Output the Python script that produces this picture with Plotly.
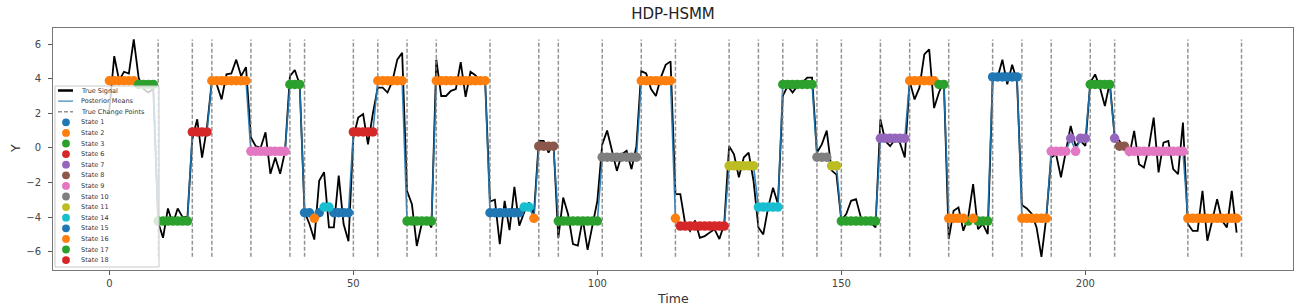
import plotly.graph_objects as go

# ---------------- data ----------------
time = list(range(232))

true_signal = [
    2.2, 5.3, 3.9, 4.4, 4.3, 6.27, 4.05, 3.4, 3.2, 3.4,
    -4.3, -5.2, -3.5, -4.4, -3.5, -4.0, -4.0, 0.5, 1.65, -0.56,
    1.17, 3.86, 3.67, 2.8, 4.25, 4.3, 5.1, 4.15, 4.67, 0.6,
    0.1, 0.0, 0.9, -1.5, -0.56, -1.5, -0.2, 4.15, 4.5, 3.67,
    -3.7, -4.4, -5.3, -1.9, -1.4, -4.6, -4.6, -1.6, -4.4, -5.4,
    0.6, 1.75, 1.95, 0.2, 2.0, 3.48, 3.48, 3.2, 3.86, 5.1,
    5.5, -2.5, -3.25, -5.67, -4.4, -4.1, -4.6, 5.1, 3.0, 3.0,
    3.3, 3.4, 4.95, 2.95, 4.4, 4.2, 3.85, 3.9, -3.1, -3.0,
    -5.56, -3.06, -4.75, -2.25, -4.5, -3.73, -3.15, -3.83, 0.4, 0.4,
    -0.27, 0.3, -5.2, -2.87, -3.83, -5.56, -5.65, -4.1, -5.9, -4.4,
    -3.06, 0.2, 1.0, -0.17, -1.33, -0.37, -0.17, -1.23, 0.1, 4.44,
    4.3, 3.4, 3.0, 4.06, 4.8, 5.0, -2.67, -2.67, -4.4, -4.8,
    -4.2, -5.2, -5.1, -4.9, -4.7, -5.27, -4.4, 0.1, -0.37, -1.7,
    -0.56, -0.27, -1.9, -4.6, -5.0, -3.44, -2.3, -3.25, 3.0, 3.58,
    3.2, 3.58, 3.77, 4.06, 4.06, -0.27, 0.2, 1.0, -1.3, -1.55,
    -4.2, -3.83, -3.06, -2.96, -4.02, -4.2, -4.3, -4.6, 1.65, 0.4,
    0.1, 0.5, 0.3, -0.56, 3.86, 2.8, 3.48, 5.4, 5.7, 2.3,
    3.2, 3.86, -5.27, -3.63, -3.44, -4.79, -4.0, -2.1, -4.7, -4.4,
    -4.98, 3.86, 4.05, 5.1, 3.67, 4.8, 3.86, -3.3, -3.5, -3.8,
    -4.6, -6.3, -4.0, -0.56, -0.37, -1.7, -0.17, 1.27, 0.11, 0.4,
    0.11, 3.77, 4.25, 3.48, 2.42, 3.77, 0.7, 0.4, -0.08, -0.46,
    0.98, -0.94, -1.14, 0.02, 1.75, -1.42, 0.3, 0.4, -1.23, -1.52,
    1.46, -4.4, -4.8, -4.8, -2.48, -5.37, -4.2, -2.96, -4.2, -4.6,
    -2.48, -4.9,
]

change_points = [10, 17, 21, 29, 37, 40, 50, 55, 61, 67, 78, 88, 92, 101, 109,
                 116, 127, 133, 138, 145, 150, 158, 164, 172, 181, 187, 193,
                 201, 206, 221, 232]

# decoded state sequence as (state, run length)
state_runs = [
    (2, 6), (17, 4), (3, 7), (6, 4), (2, 8), (9, 8), (17, 3), (1, 2), (16, 1),
    (1, 1), (14, 2), (1, 4), (6, 5), (2, 6), (3, 6), (2, 11), (1, 7), (14, 2),
    (16, 1), (8, 4), (3, 9), (10, 8), (2, 7), (16, 1), (18, 10), (11, 6),
    (14, 5), (17, 7), (10, 3), (11, 2), (3, 8), (7, 6), (2, 6), (17, 2),
    (16, 4), (3, 1), (16, 1), (3, 3), (15, 6), (16, 6), (9, 4), (7, 1), (9, 1),
    (7, 2), (17, 5), (7, 1), (8, 2), (9, 12), (16, 11),
]

state_labels = [1, 2, 3, 6, 7, 8, 9, 10, 11, 14, 15, 16, 17, 18]
state_means = {1: -3.75, 2: 3.88, 3: -4.23, 6: 0.92, 7: 0.55, 8: 0.1, 9: -0.2,
               10: -0.54, 11: -1.04, 14: -3.42, 15: 4.1, 16: -4.07, 17: 3.67,
               18: -4.52}
state_colors = {1: "#1f77b4", 2: "#ff7f0e", 3: "#2ca02c", 6: "#d62728",
                7: "#9467bd", 8: "#8c564b", 9: "#e377c2", 10: "#7f7f7f",
                11: "#bcbd22", 14: "#17becf", 15: "#1f77b4", 16: "#ff7f0e",
                17: "#2ca02c", 18: "#d62728"}

state_seq = []
for s, n in state_runs:
    state_seq += [s] * n
posterior = [state_means[s] for s in state_seq]

# ---------------- figure ----------------
FONT = "DejaVu Sans"
W, H = 1297, 308
L, R, T, B = 53, 4, 28, 38
PW, PH = W - L - R, H - T - B

def px_x(px):
    return (px - L) / PW

def px_y(py):
    return (H - B - py) / PH

fig = go.Figure()

fig.add_trace(go.Scatter(x=time, y=true_signal, mode="lines",
                         line=dict(color="black", width=1.8),
                         name="True Signal", showlegend=False, hoverinfo="skip"))
fig.add_trace(go.Scatter(x=time, y=posterior, mode="lines",
                         line=dict(color="rgba(31,119,180,0.9)", width=1.6),
                         name="Posterior Means", showlegend=False, hoverinfo="skip"))

ymin, ymax = min(true_signal), max(true_signal)
cx, cy = [], []
for c in change_points:
    cx += [c, c, None]
    cy += [ymin, ymax, None]
fig.add_trace(go.Scatter(x=cx, y=cy, mode="lines",
                         line=dict(color="rgba(128,128,128,0.85)", width=1.5, dash="4px,2px"),
                         name="True Change Points", showlegend=False, hoverinfo="skip"))

for s in state_labels:
    xs = [t for t in time if state_seq[t] == s]
    ys = [posterior[t] for t in xs]
    fig.add_trace(go.Scatter(x=xs, y=ys, mode="markers",
                             marker=dict(color=state_colors[s], size=9.5, line=dict(width=0)),
                             name=f"State {s}", showlegend=False))

# ---------------- manual legend ----------------
shapes = []
annotations = []
shapes.append(dict(type="rect", xref="paper", yref="paper",
                   x0=px_x(55), x1=px_x(159), y0=px_y(267), y1=px_y(86),
                   line=dict(color="rgba(200,200,200,1)", width=1),
                   fillcolor="rgba(255,255,255,0.8)", layer="above"))

legend_items = [("line", "True Signal", dict(color="black", width=2.5, dash="solid")),
                ("line", "Posterior Means", dict(color="rgba(31,119,180,0.9)", width=1.2, dash="solid")),
                ("line", "True Change Points", dict(color="rgba(128,128,128,0.85)", width=1.5, dash="4px,2px"))]
for s in state_labels:
    legend_items.append(("marker", f"State {s}", state_colors[s]))

row0, step = 90.5, 10.6
for i, (kind, label, style) in enumerate(legend_items):
    ry = row0 + i * step
    if kind == "line":
        shapes.append(dict(type="line", xref="paper", yref="paper",
                           x0=px_x(58), x1=px_x(73), y0=px_y(ry), y1=px_y(ry),
                           line=style, layer="above"))
    else:
        r = 3.9
        shapes.append(dict(type="circle", xref="paper", yref="paper",
                           x0=px_x(66 - r), x1=px_x(66 + r),
                           y0=px_y(ry + r), y1=px_y(ry - r),
                           line=dict(width=0), fillcolor=style, layer="above"))
    annotations.append(dict(text=label, xref="paper", yref="paper",
                            x=px_x(79), y=px_y(ry), xanchor="left", yanchor="middle",
                            showarrow=False, font=dict(family=FONT, size=6.5, color="#333")))

# axis titles
annotations.append(dict(text="Time", xref="paper", yref="paper", x=0.5, y=px_y(298),
                        xanchor="center", yanchor="middle", showarrow=False,
                        font=dict(family=FONT, size=12.5, color="#333")))
annotations.append(dict(text="Y", xref="paper", yref="paper", x=px_x(15), y=0.5,
                        xanchor="center", yanchor="middle", textangle=-90, showarrow=False,
                        font=dict(family=FONT, size=12.5, color="#333")))

fig.update_layout(
    width=W, height=H,
    margin=dict(l=L, r=R, t=T, b=B),
    paper_bgcolor="white", plot_bgcolor="white",
    showlegend=False,
    font=dict(family=FONT, color="#333"),
    title=dict(text="HDP-HSMM", x=px_x(673), xref="paper", xanchor="center",
               y=1 - 14 / H, yref="container", yanchor="middle",
               font=dict(family=FONT, size=15, color="#222")),
    shapes=shapes,
    annotations=annotations,
)
fig.update_xaxes(range=[-11.55, 242.55], tickvals=[0, 50, 100, 150, 200],
                 ticks="outside", ticklen=4, tickcolor="#555", showline=True,
                 mirror=True, linecolor="#777", linewidth=1, showgrid=False,
                 zeroline=False, tickfont=dict(family=FONT, size=10, color="#444"))
fig.update_yaxes(range=[-7.06, 6.93], tickvals=[-6, -4, -2, 0, 2, 4, 6],
                 ticks="outside", ticklen=4, tickcolor="#555", showline=True,
                 mirror=True, linecolor="#777", linewidth=1, showgrid=False,
                 zeroline=False, ticklabelstandoff=5,
                 tickfont=dict(family=FONT, size=10, color="#444"))

fig.write_html("out.html")
